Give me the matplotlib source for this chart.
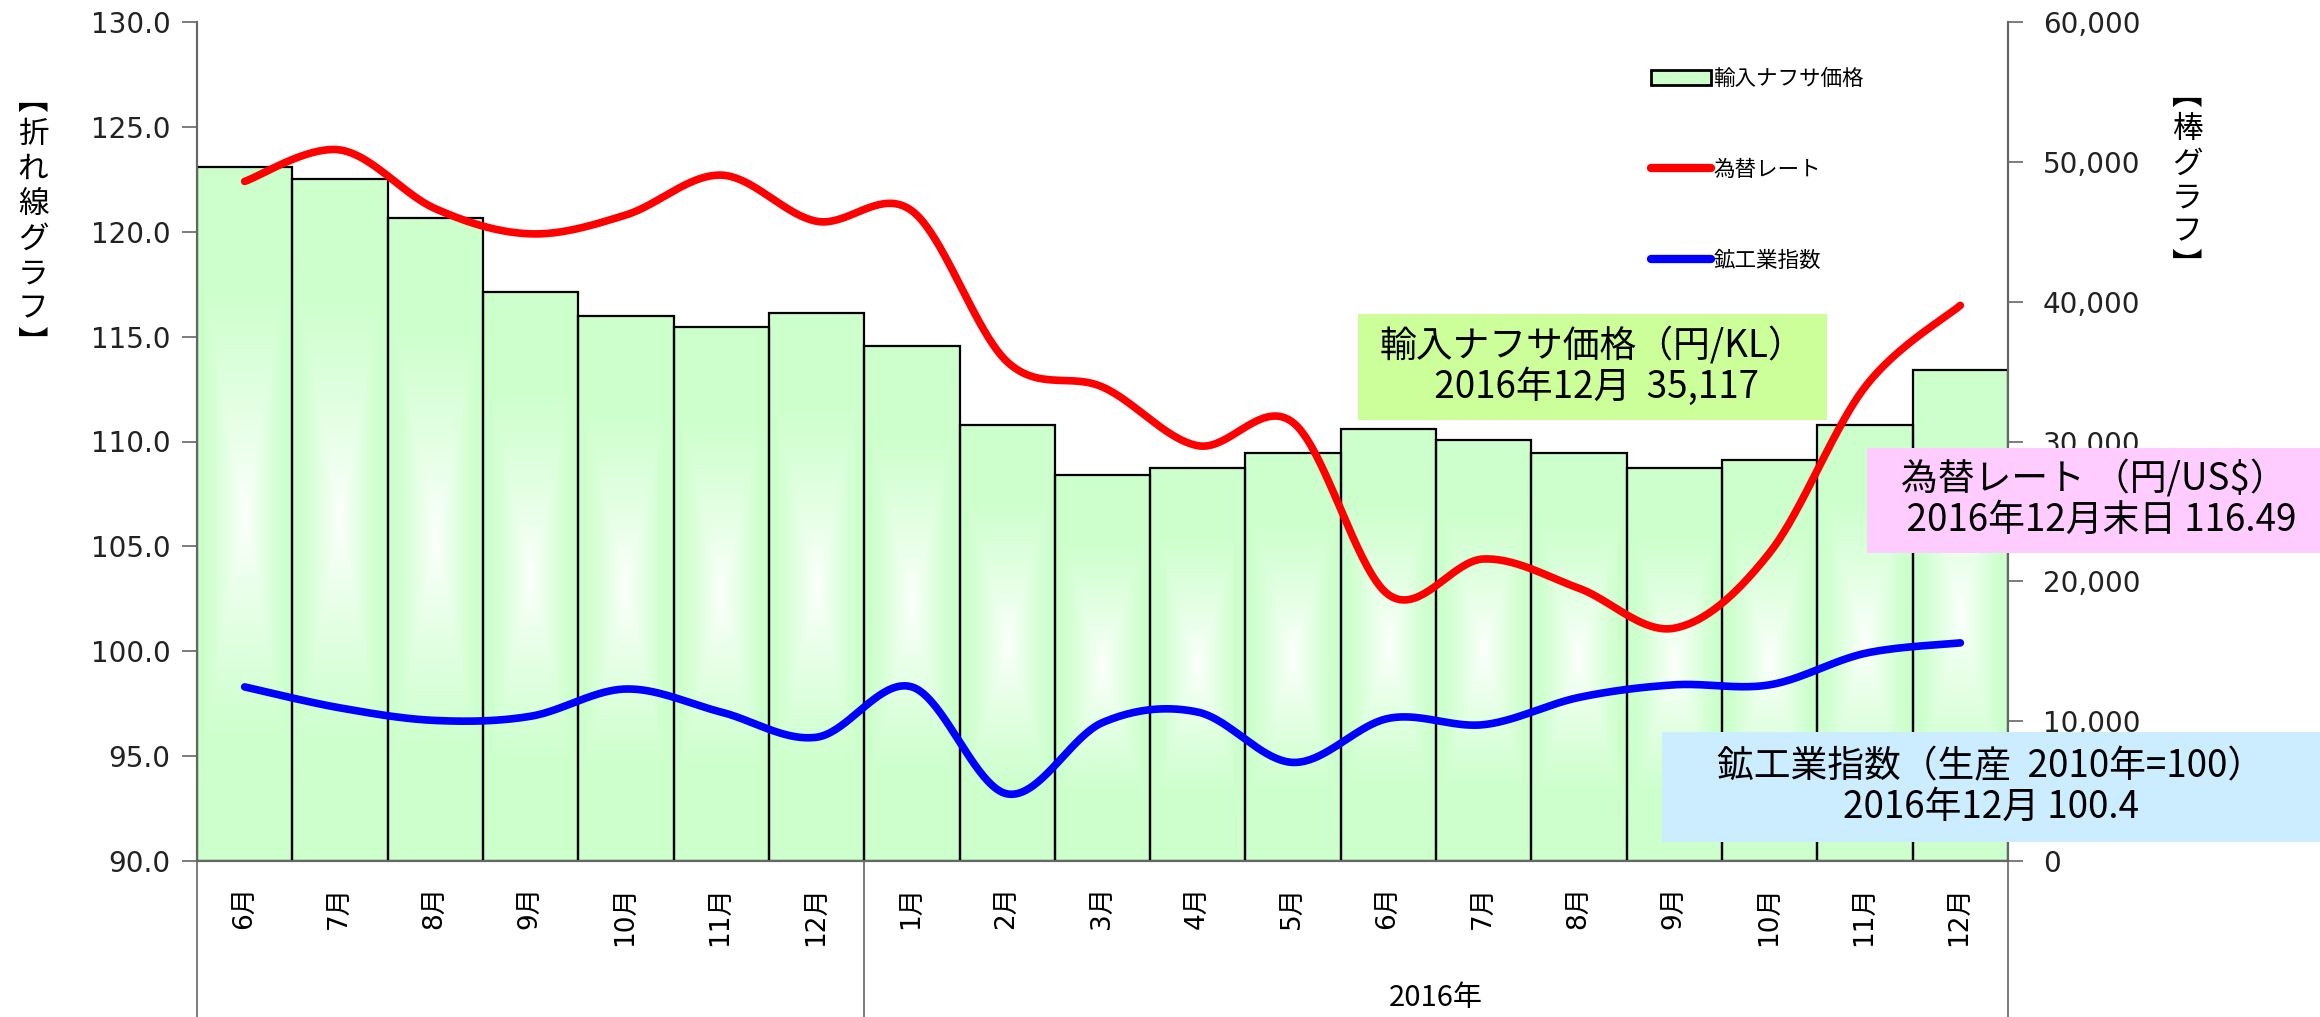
import numpy as np
import matplotlib.pyplot as plt
from matplotlib.patches import Rectangle, Patch
from matplotlib.lines import Line2D

plt.rcParams['font.family'] = ['DejaVu Sans', 'Noto Sans CJK JP']
JP = ['Noto Sans CJK JP', 'DejaVu Sans']

# data
months = ['6月', '7月', '8月', '9月', '10月', '11月', '12月',
          '1月', '2月', '3月', '4月', '5月', '6月', '7月', '8月', '9月', '10月', '11月', '12月']
naphtha = [49600, 48800, 46000, 40700, 39000, 38200, 39200, 36800, 31200, 27600,
           28100, 29200, 30900, 30100, 29200, 28100, 28700, 31200, 35117]
fx_rate = [122.4, 123.9, 121.1, 119.9, 120.8, 122.7, 120.5, 121.0, 113.8, 112.6,
           109.8, 110.9, 102.7, 104.4, 103.0, 101.1, 104.7, 112.6, 116.49]
iip = [98.3, 97.3, 96.7, 96.9, 98.2, 97.1, 95.9, 98.3, 93.2, 96.6,
       97.1, 94.7, 96.8, 96.5, 97.8, 98.4, 98.4, 99.9, 100.4]
year_label = '2016年'
year_start = 7  # first category of 2016

W, H = 2320, 1017
fig = plt.figure(figsize=(W / 100, H / 100), dpi=100, facecolor='white')
ax = fig.add_axes([197 / W, 1 - 861 / H, (2008 - 197) / W, (861 - 22) / H])
ax2 = ax.twinx()
ax.set_zorder(2)
ax2.set_zorder(1)
ax.patch.set_visible(False)

x = np.arange(len(months))


def smooth(xs, ys, n=40):
    # Excel-style smoothed line (Catmull-Rom through the points)
    p = np.column_stack([xs, ys]).astype(float)
    p = np.vstack([p[0], p, p[-1]])
    out = []
    t = np.linspace(0, 1, n, endpoint=False)[:, None]
    for i in range(1, len(p) - 2):
        p0, p1, p2, p3 = p[i - 1], p[i], p[i + 1], p[i + 2]
        seg = 0.5 * ((2 * p1) + (-p0 + p2) * t + (2 * p0 - 5 * p1 + 4 * p2 - p3) * t ** 2
                     + (-p0 + 3 * p1 - 3 * p2 + p3) * t ** 3)
        out.append(seg)
    out.append(p[-2][None, :])
    out = np.vstack(out)
    return out[:, 0], out[:, 1]


# bars with a centre-to-edge gradient
green = np.array([204, 255, 204]) / 255
yy, xx = np.mgrid[-1:1:200j, -1:1:60j]
tt = np.clip(np.maximum(np.abs(xx) * 1.15, np.abs(yy) * 1.5), 0, 1) ** 0.8
grad = 1 + (green[None, None, :] - 1) * tt[:, :, None]
for xi, v in zip(x, naphtha):
    ax2.imshow(grad, extent=(xi - 0.5, xi + 0.5, 0, v), aspect='auto',
               interpolation='bilinear', zorder=1)
ax2.bar(x, naphtha, width=1.0, fill=False, edgecolor='black', linewidth=1.6, zorder=2)

sx, sy = smooth(x, fx_rate)
ax.plot(sx, sy, color='#FF0000', lw=5.5, solid_capstyle='round')
sx, sy = smooth(x, iip)
ax.plot(sx, sy, color='#0000FF', lw=5.5, solid_capstyle='round')

ax.set_xlim(-0.5, len(months) - 0.5)
ax.set_ylim(90, 130)
ax2.set_ylim(0, 60000)
ax.set_yticks(np.arange(90, 131, 5))
ax.set_yticklabels([f'{v:.1f}' for v in np.arange(90, 131, 5)], fontsize=20, color='#222222')
ax2.set_yticks(np.arange(0, 60001, 10000))
ax2.set_yticklabels([f'{v:,}' for v in range(0, 60001, 10000)], fontsize=20, color='#222222')
ax.set_xticks(x)
ax.set_xticklabels(months, rotation=90, fontsize=19, va='top')
ax.tick_params(axis='x', length=0, pad=18)
ax.tick_params(axis='y', length=11, width=1.2, color='#666666', pad=8)
ax2.tick_params(axis='y', length=11, width=1.2, color='#666666', pad=14)

for a in (ax, ax2):
    a.spines['top'].set_visible(False)
    for s in ('left', 'right', 'bottom'):
        a.spines[s].set_color('#666666')
        a.spines[s].set_linewidth(1.5)

# category group lines below the plot
trans = ax.get_xaxis_transform()
for gx in (-0.5, year_start - 0.5, len(months) - 0.5):
    ax.add_line(Line2D([gx, gx], [0, -0.2], transform=trans, color='#666666',
                       lw=1.2, clip_on=False))
ax.text((year_start + len(months) - 1) / 2, -0.163, year_label, transform=trans,
        ha='center', va='center', fontsize=21, family=JP)

# axis titles in vertical writing
fig.text(33 / W, 1 - 222 / H, '\n'.join('︻折れ線グラフ︼'), ha='center', va='center',
         fontsize=22, linespacing=1.16, family=JP)
fig.text(2187 / W, 1 - 181 / H, '\n'.join('︻棒グラフ︼'), ha='center', va='center',
         fontsize=22, linespacing=1.13, family=JP)

# legend
handles = [Patch(facecolor='#CCFFCC', edgecolor='black', linewidth=2),
           Line2D([], [], color='#FF0000', lw=6, solid_capstyle='round'),
           Line2D([], [], color='#0000FF', lw=6, solid_capstyle='round')]
labels = ['輸入ナフサ価格', '為替レート', '鉱工業指数']
fig.legend(handles, labels, loc='upper left', bbox_to_anchor=(1640 / W, 1 - 57 / H),
           frameon=False, prop={'family': JP, 'size': 15.5},
           handlelength=2.8, handletextpad=0.1, labelspacing=3.2, borderpad=0)

# annotation boxes
boxes = [
    ((1358, 314, 1827, 420), '#CCFF99', '輸入ナフサ価格（円/KL）\n 2016年12月  35,117'),
    ((1867, 448, 2320, 553), '#FFCCFF', '為替レート （円/US$）\n  2016年12月末日 116.49'),
    ((1662, 732, 2320, 842), '#CCECFF', '鉱工業指数（生産  2010年=100）\n2016年12月 100.4'),
]
for (x0, y0, x1, y1), col, txt in boxes:
    fig.add_artist(Rectangle((x0 / W, 1 - y1 / H), (x1 - x0) / W, (y1 - y0) / H,
                             transform=fig.transFigure, facecolor=col, edgecolor='none',
                             zorder=5))
    fig.text((x0 + x1) / 2 / W, 1 - (y0 + y1) / 2 / H, txt, ha='center', va='center',
             multialignment='center', fontsize=26.5, linespacing=1.05, family=JP, zorder=6)

fig.savefig('out.png', dpi=100, facecolor='white')
